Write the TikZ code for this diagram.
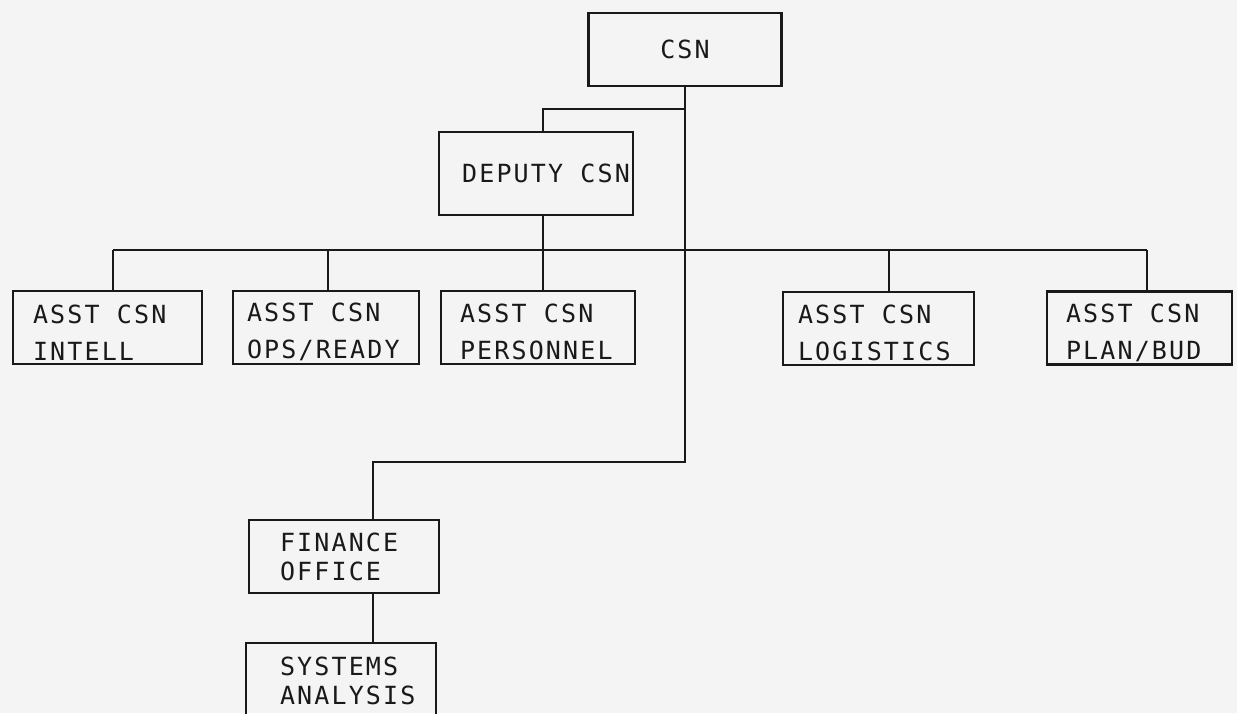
\documentclass[tikz,border=0pt]{standalone}
\usepackage{fontspec}
\usepackage{xcolor}
\usepackage{tikz}
\usetikzlibrary{positioning}
\newfontfamily\typefont[LetterSpace=8.6]{DejaVu Sans Mono}
\definecolor{paper}{RGB}{244,244,244}
\definecolor{ink}{RGB}{25,25,25}

\begin{document}
\begin{tikzpicture}[
    x=1pt, y=-1pt,
    unit/.style={rectangle, draw=ink, line width=2.1pt, inner ysep=0pt, minimum height=73pt,
                 align=flush left, text=ink, font=\typefont\fontsize{25}{37}\selectfont},
    asst/.style={unit, text height=28pt},
    lower/.style={unit, font=\typefont\fontsize{25}{29}\selectfont},
    wire/.style={draw=ink, line width=2.1pt}
]
\fill[paper] (0,0) rectangle (1237,713);
\useasboundingbox (0,0) rectangle (1237,713);

\node[unit, align=center, minimum width=193pt] (csn) at (685,49.5) {CSN};
\node[unit, inner xsep=0pt, minimum width=194pt, minimum height=83pt] (deputy) at (536,173.5)
    {\hspace*{20pt}DEPUTY CSN};

\node[asst, text width=149pt, inner xsep=20pt] (intell)    at (107.5,327.5) {ASST CSN\\INTELL};
\node[asst, text width=158pt, inner xsep=14pt] (ops)       at (326,327.5)   {ASST CSN\\OPS/READY};
\node[asst, text width=156pt, inner xsep=19pt] (personnel) at (538,327.5)   {ASST CSN\\PERSONNEL};
\node[asst, text width=161pt, inner xsep=15pt] (logistics) at (878.5,328.5) {ASST CSN\\LOGISTICS};
\node[asst, text width=147pt, inner xsep=19pt] (planbud)   at (1139.5,328)  {ASST CSN\\PLAN/BUD};

\node[lower, text width=128pt, inner xsep=31pt] (finance) at (344,556.5) {FINANCE\\OFFICE};
\node[lower, text width=122pt, inner xsep=34pt, minimum height=75pt] (systems) at (341,680.5)
    {SYSTEMS\\ANALYSIS};

% chief's trunk line
\coordinate (depjoin) at (543,109);
\coordinate (elbow) at (685,462);
\coordinate (finjoin) at (373,462);
\draw[wire] (csn.south) -- (elbow) -- (finjoin) -- (finjoin |- finance.north);
\draw[wire] (csn.south |- depjoin) -- (depjoin) -- (depjoin |- deputy.north);
\draw[wire] (finjoin |- finance.south) -- (finjoin |- systems.north);

% assistants bus
\coordinate (busL) at (113,250);
\coordinate (busR) at (1147,250);
\draw[wire] (busL) -- (busR);
\draw[wire] (deputy.south -| depjoin) -- (depjoin |- busL);
\foreach \unit/\x in {intell/113, ops/328, personnel/543, logistics/889, planbud/1147}{
    \coordinate (tap-\unit) at (\x,250);
    \draw[wire] (tap-\unit) -- (tap-\unit |- \unit.north);
}
\end{tikzpicture}
\end{document}
